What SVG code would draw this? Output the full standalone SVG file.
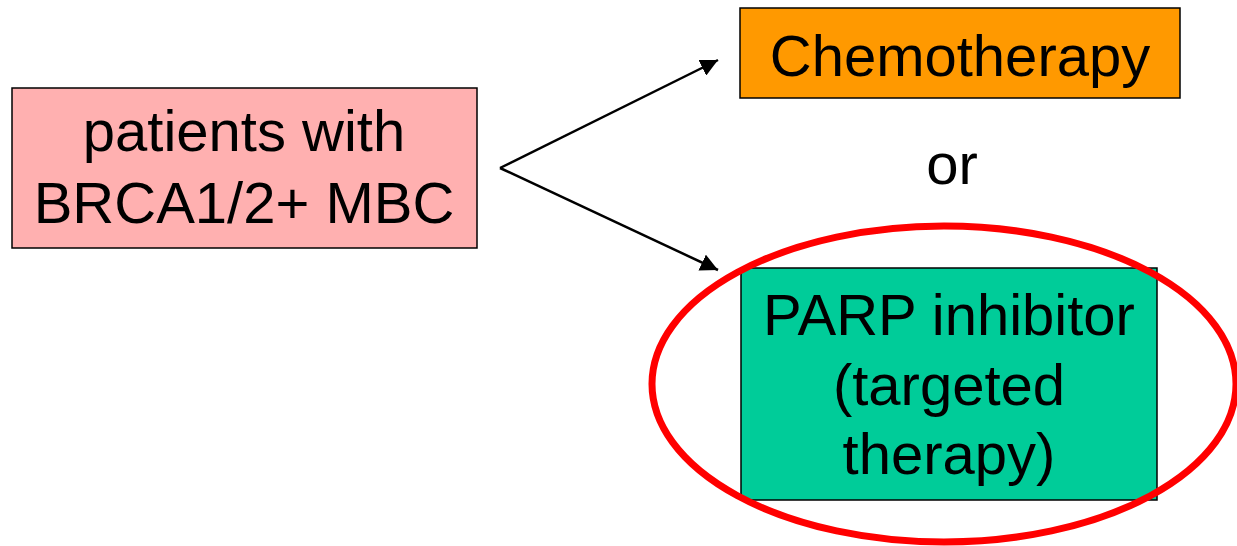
<svg xmlns="http://www.w3.org/2000/svg" width="1237" height="546" viewBox="0 0 1237 546">
  <style>
    .box { stroke: #000; stroke-width: 1.5; }
    .label { font-family: "Liberation Sans", Arial, sans-serif; font-size: 58px; fill: #000; text-anchor: middle; }
    .conn { stroke: #000; stroke-width: 2.5; fill: none; }
  </style>
  <defs>
    <marker id="arrowhead" viewBox="0 0 10 10" refX="10" refY="5" markerWidth="7" markerHeight="7" markerUnits="strokeWidth" orient="auto">
      <path d="M0,0 L10,5 L0,10 z" fill="#000"/>
    </marker>
  </defs>
  <rect width="1237" height="546" fill="#fff"/>

  <g id="patients">
    <rect class="box" x="12" y="88" width="465" height="160" fill="#ffb0b0"/>
    <text class="label" x="244" y="151">patients with</text>
    <text class="label" x="244" y="223">BRCA1/2+ MBC</text>
  </g>

  <g id="chemotherapy">
    <rect class="box" x="740" y="8" width="440" height="90" fill="#ff9900"/>
    <text class="label" x="960" y="76">Chemotherapy</text>
  </g>

  <g id="or-label">
    <text class="label" x="952" y="184">or</text>
  </g>

  <g id="parp">
    <rect class="box" x="741" y="268" width="416" height="232" fill="#00cc99"/>
    <text class="label" x="949" y="335">PARP inhibitor</text>
    <text class="label" x="949" y="405">(targeted</text>
    <text class="label" x="949" y="474">therapy)</text>
  </g>

  <g id="highlight">
    <ellipse cx="944" cy="384" rx="292" ry="158" fill="none" stroke="#ff0000" stroke-width="7"/>
  </g>

  <g id="connectors">
    <line class="conn" x1="500" y1="168" x2="718" y2="60" marker-end="url(#arrowhead)"/>
    <line class="conn" x1="500" y1="168" x2="718" y2="270" marker-end="url(#arrowhead)"/>
  </g>
</svg>
